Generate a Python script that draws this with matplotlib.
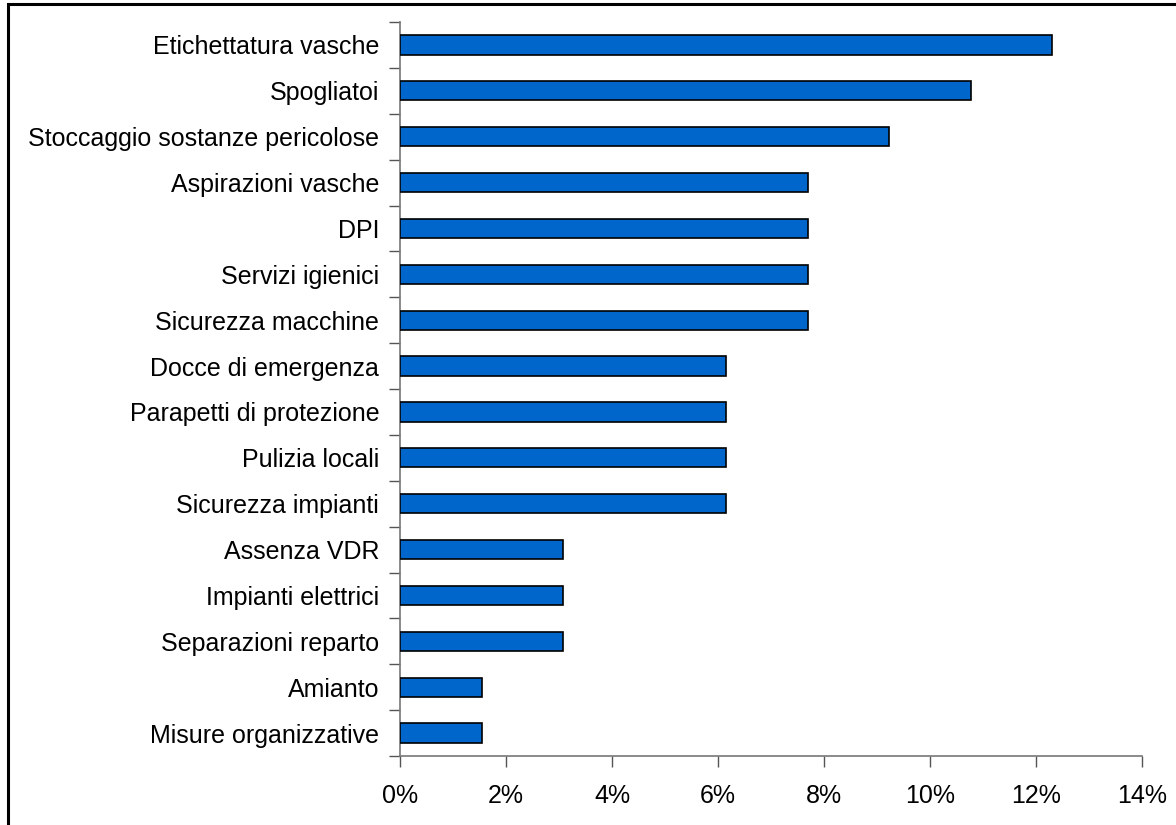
import matplotlib
matplotlib.use("Agg")
import matplotlib.pyplot as plt
from matplotlib.ticker import FuncFormatter, FixedLocator
from matplotlib.patches import Rectangle

categories = [
    "Etichettatura vasche", "Spogliatoi", "Stoccaggio sostanze pericolose",
    "Aspirazioni vasche", "DPI", "Servizi igienici", "Sicurezza macchine",
    "Docce di emergenza", "Parapetti di protezione", "Pulizia locali",
    "Sicurezza impianti", "Assenza VDR", "Impianti elettrici",
    "Separazioni reparto", "Amianto", "Misure organizzative",
]
values = [12.31, 10.77, 9.23, 7.69, 7.69, 7.69, 7.69, 6.15, 6.15, 6.15,
          6.15, 3.08, 3.08, 3.08, 1.54, 1.54]
xticks = [0, 2, 4, 6, 8, 10, 12, 14]

plt.rcParams['font.family'] = ['Liberation Sans', 'DejaVu Sans']

W, H = 1176, 825
fig = plt.figure(figsize=(W / 100, H / 100), dpi=100)
fig.patches.append(Rectangle((8 / W, -0.2), 1.2, 1.2 - 4 / H, transform=fig.transFigure,
                             fill=False, edgecolor='black', linewidth=2.2))

x0, x1 = 400, 1142
y0, y1 = 22, 756
ax = fig.add_axes([x0 / W, 1 - y1 / H, (x1 - x0) / W, (y1 - y0) / H])

n = len(categories)
ypos = list(range(n))
ax.barh(ypos, values, height=0.42, color='#0066CC', edgecolor='black', linewidth=1.2, zorder=3)
ax.set_ylim(n - 0.5, -0.5)
ax.set_xlim(0, 14)

FS = 18
ax.set_yticks(ypos)
ax.set_yticklabels(categories, fontsize=FS)
ax.yaxis.set_minor_locator(FixedLocator([i - 0.5 for i in range(n + 1)]))
ax.tick_params(axis='y', which='major', length=0, pad=15)
ax.tick_params(axis='y', which='minor', length=8, width=1, color='#555555')

ax.set_xticks(xticks)
ax.xaxis.set_major_formatter(FuncFormatter(lambda v, p: f"{int(v)}%"))
ax.tick_params(axis='x', which='major', length=8, width=1, color='#555555',
               labelsize=FS, pad=12)

for s in ['top', 'right']:
    ax.spines[s].set_visible(False)
for s in ['left', 'bottom']:
    ax.spines[s].set_color('#777777')
    ax.spines[s].set_linewidth(1.2)

fig.savefig("out.png", dpi=100)
